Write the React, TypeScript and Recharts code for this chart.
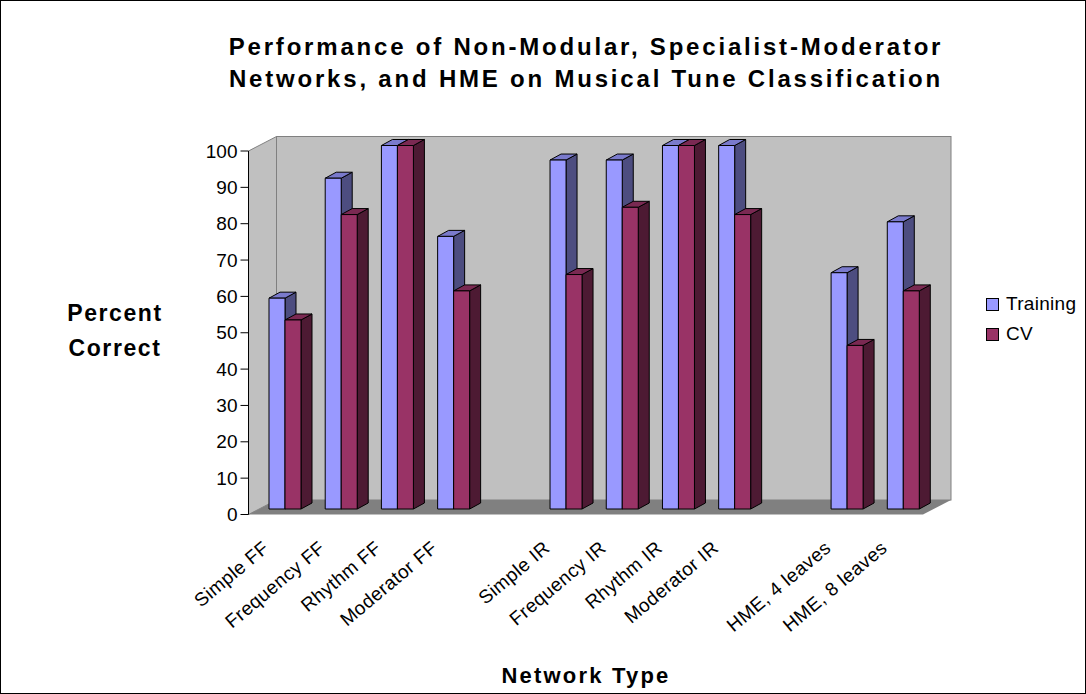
import { BarChart, Bar, XAxis, YAxis, Legend } from "recharts";

const categories = [
  "Simple FF",
  "Frequency FF",
  "Rhythm FF",
  "Moderator FF",
  "",
  "Simple IR",
  "Frequency IR",
  "Rhythm IR",
  "Moderator IR",
  "",
  "HME, 4 leaves",
  "HME, 8 leaves",
];
const seriesNames = ["Training", "CV"];
const training = [58, 91, 100, 75, null, 96, 96, 100, 100, null, 65, 79];
const cv = [52, 81, 100, 60, null, 64.5, 83, 100, 81, null, 45, 60];
const yTicks = [0, 10, 20, 30, 40, 50, 60, 70, 80, 90, 100];

const data = categories.map((name, i) => ({
  name,
  Training: training[i],
  CV: cv[i],
}));

const W = 1086;
const H = 694;
const FONT = "'Liberation Sans', Arial, sans-serif";

// plot area = the plane the bars stand in
const PLOT_LEFT = 257;
const PLOT_RIGHT = 931.5;
const PLOT_TOP = 145.5;
const PLOT_BOTTOM = 509;
const Y_AXIS_W = 60;
const X_AXIS_H = 100;

// front and back planes of the 3D box, relative to the bar plane
const FRONT = { dx: -8.5, dy: 5.5 };
const BACK = { dx: 19.5, dy: -9 };

// bar extrusion
const DEPTH_X = 11;
const DEPTH_Y = 6;

const TRAIN_COLORS = { front: "#9999FF", side: "#4D4D80", top: "#7A7ACC" };
const CV_COLORS = { front: "#993366", side: "#4D1A33", top: "#7A2952" };

function makeBar3D(colors: { front: string; side: string; top: string }) {
  return (props: any) => {
    const { x, y, width, height } = props;
    if (height == null || height <= 0 || isNaN(y)) return <g />;
    const r = x + width;
    const b = y + height;
    return (
      <g stroke="#000" strokeWidth={1} strokeLinejoin="round">
        <polygon
          points={`${r},${y} ${r + DEPTH_X},${y - DEPTH_Y} ${r + DEPTH_X},${b - DEPTH_Y} ${r},${b}`}
          fill={colors.side}
        />
        <polygon
          points={`${x},${y} ${x + DEPTH_X},${y - DEPTH_Y} ${r + DEPTH_X},${y - DEPTH_Y} ${r},${y}`}
          fill={colors.top}
        />
        <rect x={x} y={y} width={width} height={height} fill={colors.front} />
      </g>
    );
  };
}

const YTick = (props: any) => {
  const { y, payload } = props;
  const ax = PLOT_LEFT + FRONT.dx;
  const ty = y + FRONT.dy;
  return (
    <g>
      <line x1={ax - 8} y1={ty} x2={ax} y2={ty} stroke="#000" />
      <text
        x={ax - 11}
        y={ty}
        textAnchor="end"
        dominantBaseline="central"
        fontFamily={FONT}
        fontSize={19}
        fill="#000"
      >
        {payload.value}
      </text>
    </g>
  );
};

const XTick = (props: any) => {
  const { x, payload } = props;
  if (!payload.value) return <g />;
  const ax = x - 15;
  const ay = 550;
  return (
    <text
      x={ax}
      y={ay}
      textAnchor="end"
      transform={`rotate(-40 ${ax} ${ay})`}
      fontFamily={FONT}
      fontSize={19}
      letterSpacing={0.4}
      fill="#000"
    >
      {payload.value}
    </text>
  );
};

const LegendBox = (props: any) => {
  const items = [...(props.payload || [])].sort(
    (a: any, b: any) => seriesNames.indexOf(a.value) - seriesNames.indexOf(b.value)
  );
  return (
    <div style={{ fontFamily: FONT, fontSize: 19, lineHeight: "30px" }}>
      {items.map((it: any) => (
        <div key={it.value} style={{ display: "flex", alignItems: "center" }}>
          <span
            style={{
              display: "inline-block",
              width: 11,
              height: 11,
              background: it.color,
              border: "1px solid #000",
              marginRight: 7,
            }}
          />
          <span style={{ letterSpacing: 0.3 }}>{it.value}</span>
        </div>
      ))}
    </div>
  );
};

function Backdrop() {
  const fl = PLOT_LEFT + FRONT.dx;
  const fr = PLOT_RIGHT + FRONT.dx;
  const fb = PLOT_BOTTOM + FRONT.dy;
  const ft = PLOT_TOP + FRONT.dy;
  const bl = PLOT_LEFT + BACK.dx;
  const br = PLOT_RIGHT + BACK.dx;
  const bb = PLOT_BOTTOM + BACK.dy;
  const bt = PLOT_TOP + BACK.dy;
  return (
    <svg width={W} height={H} style={{ position: "absolute", left: 0, top: 0 }}>
      <rect x={0.5} y={0.5} width={W - 1} height={H - 1} fill="#fff" stroke="#000" />
      {/* back wall */}
      <rect x={bl} y={bt} width={br - bl} height={bb - bt} fill="#C0C0C0" stroke="#808080" />
      {/* side wall */}
      <polygon
        points={`${fl},${ft} ${bl},${bt} ${bl},${bb} ${fl},${fb}`}
        fill="#C0C0C0"
        stroke="#808080"
      />
      {/* floor */}
      <polygon
        points={`${fl},${fb} ${fr},${fb} ${br},${bb} ${bl},${bb}`}
        fill="#808080"
      />
      <line x1={fl} y1={ft} x2={fl} y2={fb} stroke="#000" />
      <g fontFamily={FONT} fontWeight="bold" fill="#000" textAnchor="middle">
        <text x={586} y={55} fontSize={24} letterSpacing={2.8}>
          Performance of Non-Modular, Specialist-Moderator
        </text>
        <text x={586} y={87} fontSize={24} letterSpacing={2.8}>
          Networks, and HME on Musical Tune Classification
        </text>
        <text x={115} y={321} fontSize={23} letterSpacing={1.6}>
          Percent
        </text>
        <text x={115} y={356} fontSize={23} letterSpacing={1.6}>
          Correct
        </text>
        <text x={586} y={683} fontSize={22} letterSpacing={2.2}>
          Network Type
        </text>
      </g>
    </svg>
  );
}

export default function App() {
  return (
    <div style={{ position: "absolute", left: 0, top: 0, width: W, height: H }}>
      <Backdrop />
      <div style={{ position: "absolute", left: 0, top: 0 }}>
        <BarChart
          width={W}
          height={H}
          data={data}
          barSize={16}
          barGap={0}
          margin={{
            top: PLOT_TOP,
            bottom: H - PLOT_BOTTOM - X_AXIS_H,
            left: PLOT_LEFT - Y_AXIS_W,
            right: W - PLOT_RIGHT,
          }}
        >
          <XAxis
            dataKey="name"
            height={X_AXIS_H}
            axisLine={false}
            tickLine={false}
            interval={0}
            tick={<XTick />}
          />
          <YAxis
            width={Y_AXIS_W}
            domain={[0, 100]}
            ticks={yTicks}
            axisLine={false}
            tickLine={false}
            interval={0}
            tick={<YTick />}
          />
          <Legend
            layout="vertical"
            align="center"
            verticalAlign="middle"
            content={<LegendBox />}
            wrapperStyle={{ left: 986, top: 289, width: 100 }}
          />
          <Bar
            dataKey="Training"
            fill={TRAIN_COLORS.front}
            shape={makeBar3D(TRAIN_COLORS)}
            isAnimationActive={false}
          />
          <Bar
            dataKey="CV"
            fill={CV_COLORS.front}
            shape={makeBar3D(CV_COLORS)}
            isAnimationActive={false}
          />
        </BarChart>
      </div>
    </div>
  );
}
